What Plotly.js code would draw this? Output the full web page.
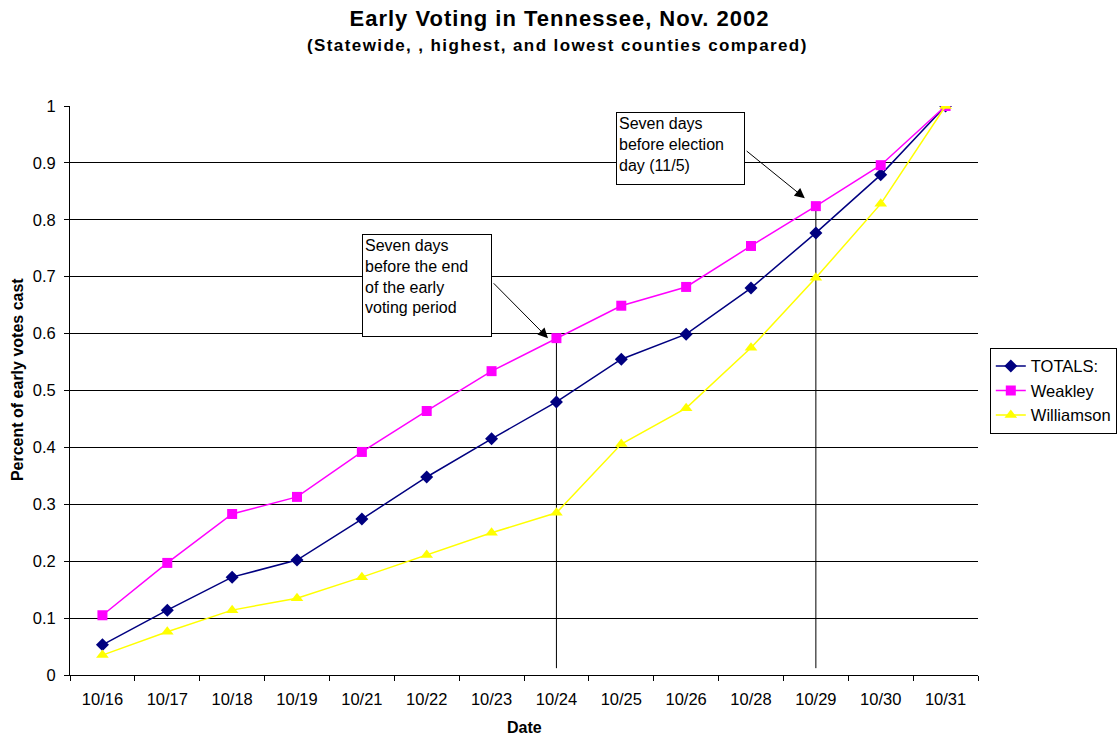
<!DOCTYPE html>
<html>
<head>
<meta charset="utf-8">
<script src="https://cdn.plot.ly/plotly-3.0.1.min.js"></script>
<style>
  html, body { margin: 0; padding: 0; background: #fff; }
  #chart { width: 1119px; height: 739px; }
</style>
</head>
<body>
<div id="chart"></div>
<script>
// Early voting dates (days with early voting open)
const dates = ['10/16', '10/17', '10/18', '10/19', '10/21', '10/22', '10/23',
               '10/24', '10/25', '10/26', '10/28', '10/29', '10/30', '10/31'];

// Cumulative share of early votes cast by each date
const totals     = [0.053, 0.114, 0.172, 0.202, 0.274, 0.348, 0.415,
                    0.480, 0.555, 0.599, 0.680, 0.777, 0.879, 1.000];
const weakley    = [0.105, 0.197, 0.283, 0.313, 0.392, 0.464, 0.534,
                    0.592, 0.649, 0.682, 0.754, 0.824, 0.896, 1.000];
const williamson = [0.035, 0.076, 0.114, 0.135, 0.172, 0.211, 0.250,
                    0.285, 0.406, 0.469, 0.575, 0.698, 0.828, 1.000];

const yTicks = [0, 0.1, 0.2, 0.3, 0.4, 0.5, 0.6, 0.7, 0.8, 0.9, 1];

// Reference dates marked with vertical drop lines
const markerDates = ['10/24', '10/29'];
const markerNotes = [
  'Seven days<br>before the end<br>of the early<br>voting period',
  'Seven days<br>before election<br>day (11/5)'
];

const FONT = 'Liberation Sans, Arial, Helvetica, sans-serif';

const traces = [
  {
    name: 'TOTALS:', x: dates, y: totals, type: 'scatter', mode: 'lines+markers',
    line: { color: '#000080', width: 1.5 },
    marker: { symbol: 'diamond', size: 10, color: '#000080' }
  },
  {
    name: 'Weakley', x: dates, y: weakley, type: 'scatter', mode: 'lines+markers',
    line: { color: '#FF00FF', width: 1.5 },
    marker: { symbol: 'square', size: 10, color: '#FF00FF' }
  },
  {
    name: 'Williamson', x: dates, y: williamson, type: 'scatter', mode: 'lines+markers',
    line: { color: '#FFFF00', width: 1.5 },
    marker: { symbol: 'triangle-up', size: 11, color: '#FFFF00' }
  }
];

// Vertical lines from each marked Weakley point down to the axis
const shapes = markerDates.map(d => ({
  type: 'line', xref: 'x', yref: 'y',
  x0: d, x1: d, y0: weakley[dates.indexOf(d)], y1: 0.012,
  line: { color: '#000', width: 1 },
  layer: 'below'
}));

const i1 = dates.indexOf(markerDates[0]);
const i2 = dates.indexOf(markerDates[1]);

const annotations = [
  {
    text: '<span style="letter-spacing:1.4px">(Statewide, , highest, and lowest counties compared)</span>',
    xref: 'paper', yref: 'paper', x: 0.537, y: 1.107,
    xanchor: 'center', yanchor: 'middle', showarrow: false,
    font: { family: FONT, size: 17, color: '#000', weight: 'bold' }
  },
  // axis titles
  {
    text: 'Percent of early votes cast', textangle: -90,
    xref: 'paper', yref: 'paper', x: -0.0584, y: 0.520,
    xanchor: 'center', yanchor: 'middle', showarrow: false,
    font: { family: FONT, size: 16, color: '#000', weight: 'bold' }
  },
  {
    text: 'Date',
    xref: 'paper', yref: 'paper', x: 0.5, y: -0.0931,
    xanchor: 'center', yanchor: 'middle', showarrow: false,
    font: { family: FONT, size: 16, color: '#000', weight: 'bold' }
  },
  // callout boxes
  {
    text: markerNotes[0], xref: 'x', yref: 'y', x: i1 - 3.0, y: 0.775,
    xanchor: 'left', yanchor: 'top', align: 'left', valign: 'top',
    showarrow: false, width: 124, height: 97, borderpad: 2,
    bgcolor: '#fff', bordercolor: '#000', borderwidth: 1,
    font: { family: FONT, size: 16, color: '#000' }
  },
  {
    text: markerNotes[1], xref: 'x', yref: 'y', x: i2 - 3.08, y: 0.989,
    xanchor: 'left', yanchor: 'top', align: 'left', valign: 'top',
    showarrow: false, width: 123, height: 67, borderpad: 2,
    bgcolor: '#fff', bordercolor: '#000', borderwidth: 1,
    font: { family: FONT, size: 16, color: '#000' }
  },
  // arrows from boxes to the marked points
  {
    text: '', xref: 'x', yref: 'y', x: i1 - 0.13, y: weakley[i1],
    axref: 'x', ayref: 'y', ax: i1 - 0.99, ay: 0.691,
    showarrow: true, arrowhead: 2, arrowsize: 2, arrowwidth: 1, arrowcolor: '#000'
  },
  {
    text: '', xref: 'x', yref: 'y', x: i2 - 0.17, y: 0.838,
    axref: 'x', ayref: 'y', ax: i2 - 1.09, ay: 0.923,
    showarrow: true, arrowhead: 2, arrowsize: 2, arrowwidth: 1, arrowcolor: '#000'
  }
];

const layout = {
  width: 1119, height: 739,
  margin: { l: 70, r: 141, t: 106, b: 64, autoexpand: false },
  paper_bgcolor: '#fff', plot_bgcolor: '#fff',
  font: { family: FONT, size: 16, color: '#000' },
  title: {
    text: '<span style="letter-spacing:1px">Early Voting in Tennessee, Nov. 2002</span>',
    x: 0.5, xref: 'container', xanchor: 'center',
    y: 1 - 18 / 739, yref: 'container', yanchor: 'middle',
    font: { family: FONT, size: 22, color: '#000', weight: 'bold' }
  },
  xaxis: {
    type: 'category', categoryorder: 'array', categoryarray: dates,
    range: [-0.5, dates.length - 0.5],
    tickson: 'boundaries', ticks: 'outside', ticklen: 5, tickcolor: '#000',
    showline: true, linecolor: '#000', linewidth: 1,
    showgrid: false, zeroline: false,
    ticklabelstandoff: 9,
    tickfont: { family: FONT, size: 16.5, color: '#000' }
  },
  yaxis: {
    range: [0, 1], tickvals: yTicks, ticktext: yTicks.map(String),
    ticks: 'outside', ticklen: 5, tickcolor: '#000',
    showline: true, linecolor: '#000', linewidth: 1,
    showgrid: true, gridcolor: '#000', gridwidth: 1, zeroline: false,
    ticklabelstandoff: 5,
    tickfont: { family: FONT, size: 16.5, color: '#000' }
  },
  legend: {
    x: 1.013, y: 0.575, xanchor: 'left', yanchor: 'top',
    bgcolor: '#fff', bordercolor: '#000', borderwidth: 1,
    font: { family: FONT, size: 16.5, color: '#000' },
    tracegroupgap: 0
  },
  showlegend: true,
  shapes: shapes,
  annotations: annotations
};

Plotly.newPlot('chart', traces, layout, { displayModeBar: false, staticPlot: true });
</script>
</body>
</html>
